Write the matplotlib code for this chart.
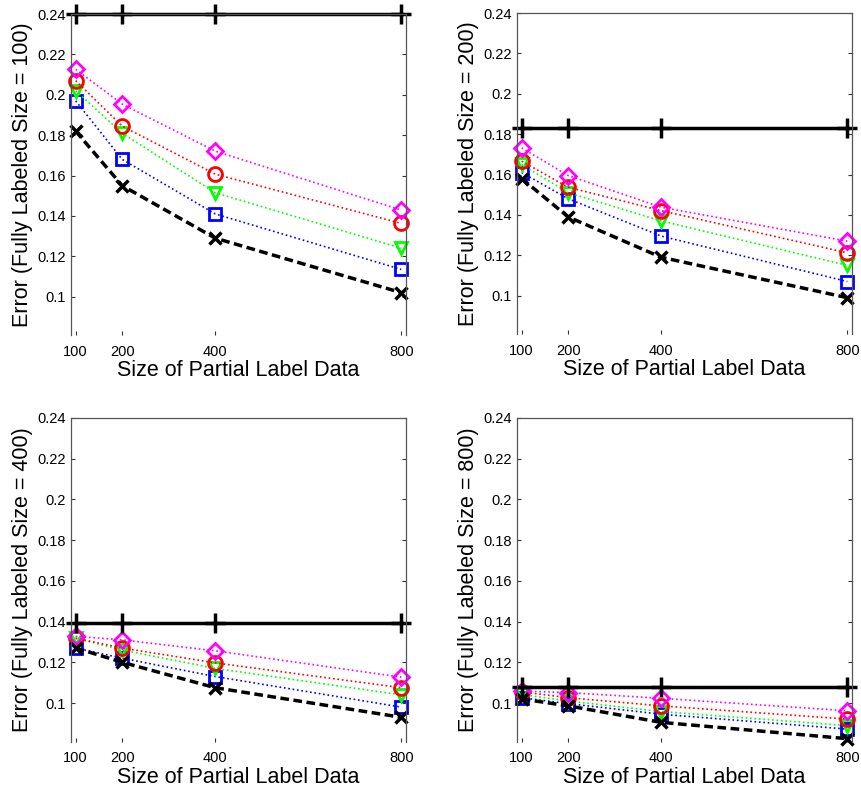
import matplotlib
matplotlib.use("Agg")
import numpy as np
from matplotlib import pyplot as plt

plt.rcParams['font.family'] = ['Liberation Sans', 'DejaVu Sans']

# tamano de los datos parciales (eje x)
partial = [100, 200, 400, 800]
full_sizes = [100, 200, 400, 800]

# linea base (solo datos totalmente etiquetados), una por panel
base = [0.240, 0.183, 0.1395, 0.1077]

# curvas por panel: negro (x), azul (s), verde (v), rojo (o), magenta (d)
black = [[0.182, 0.155, 0.129, 0.102],
         [0.158, 0.139, 0.119, 0.099],
         [0.127, 0.120, 0.1075, 0.093],
         [0.102, 0.0986, 0.0905, 0.0825]]
blue = [[0.197, 0.168, 0.141, 0.1135],
        [0.161, 0.148, 0.1295, 0.107],
        [0.127, 0.122, 0.113, 0.098],
        [0.1026, 0.0997, 0.0945, 0.0872]]
green = [[0.202, 0.181, 0.1515, 0.124],
         [0.165, 0.151, 0.137, 0.115],
         [0.1318, 0.126, 0.117, 0.104],
         [0.1042, 0.101, 0.0958, 0.0889]]
red = [[0.207, 0.1845, 0.1607, 0.1363],
       [0.1666, 0.1537, 0.1421, 0.1212],
       [0.1318, 0.127, 0.1197, 0.1075],
       [0.1055, 0.1026, 0.0986, 0.0921]]
magenta = [[0.2126, 0.1954, 0.1721, 0.1429],
           [0.1732, 0.1595, 0.1438, 0.127],
           [0.1327, 0.131, 0.1256, 0.1127],
           [0.1059, 0.1051, 0.1023, 0.0962]]

yticks = [0.1, 0.12, 0.14, 0.16, 0.18, 0.2, 0.22, 0.24]
yticklabels = ['0.1', '0.12', '0.14', '0.16', '0.18', '0.2', '0.22', '0.24']

fig = plt.figure(figsize=(8.61, 7.90), dpi=100)

# posiciones de los ejes (fraccion de la figura)
boxes = [[0.0825, 0.5759, 0.389, 0.4063],
         [0.6005, 0.5772, 0.389, 0.4063],
         [0.0825, 0.0611, 0.389, 0.4101],
         [0.6005, 0.0611, 0.389, 0.4101]]

for i in range(4):
    ax = fig.add_axes(boxes[i])
    n = len(partial)
    ax.plot(partial, blue[i], 'b:', marker='s', ms=9, mew=2, mfc='none', lw=1.2, clip_on=False)
    ax.plot(partial, green[i], ':', color=(0, 1, 0), marker='v', ms=9, mew=2, mfc='none', lw=1.2, clip_on=False)
    ax.plot(partial, red[i], 'r:', marker='o', ms=10, mew=2, mfc='none', lw=1.2, clip_on=False)
    ax.plot(partial, magenta[i], ':', color=(1, 0, 1), marker='D', ms=8, mew=2, mfc='none', lw=1.2, clip_on=False)
    ax.plot(partial, black[i], 'k', ls=(0, (2.5, 1.3)), marker='x', ms=9, mew=2.5, lw=2.5, clip_on=False)
    ax.plot(partial, [base[i]] * n, 'k-', marker='+', ms=14, mew=2.5, lw=2.5, clip_on=False)

    ax.set_xlim(90, 810)
    ax.set_ylim(0.081, 0.24)
    ax.set_xticks(partial)
    ax.set_xticklabels([str(p) for p in partial])
    ax.set_yticks(yticks)
    ax.set_yticklabels(yticklabels)
    ax.tick_params(direction='in', length=3, width=0.8, labelsize=10.5, pad=4,
                   right=True, top=False, colors='#333333', labelcolor='black')
    for s in ['left', 'top', 'right']:
        ax.spines[s].set_color('#555555')
        ax.spines[s].set_linewidth(0.9)
    ax.spines['bottom'].set_visible(False)
    ax.tick_params(axis='x', pad=7)

    ax.set_xlabel('Size of Partial Label Data', fontsize=15.5, labelpad=1)
    ax.set_ylabel('Error (Fully Labeled Size = %d)' % full_sizes[i], fontsize=15.5, labelpad=3)

plt.savefig('out.png', dpi=100)
